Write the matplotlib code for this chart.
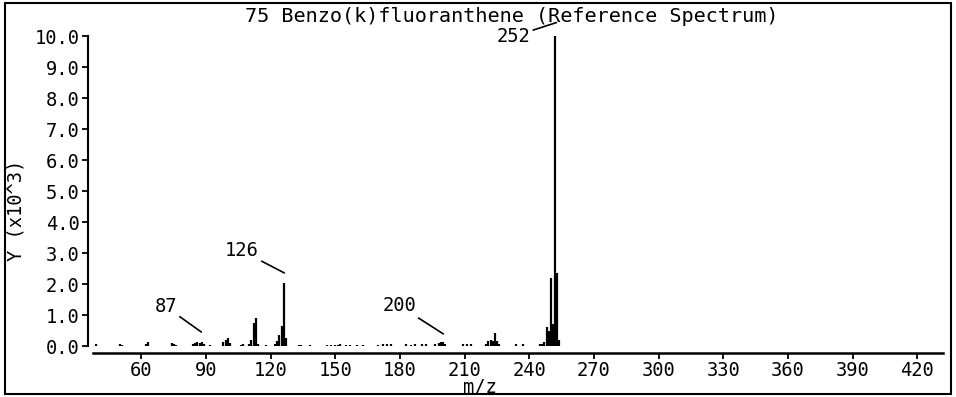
import matplotlib.pyplot as plt
from matplotlib.patches import Rectangle

# spectrum (m/z, abundance in x10^3)
mz = [39, 50, 51, 62, 63, 74, 75, 76, 84, 85, 86, 87, 88, 89, 92, 98, 99, 100, 101,
      106, 107, 110, 111, 112, 113, 114, 118, 122, 123, 124, 125, 126, 127, 133, 134, 138,
      146, 148, 150, 151, 152, 155, 157, 160, 163, 170, 172, 174, 176, 183, 185, 187,
      190, 192, 196, 198, 199, 200, 201, 209, 211, 213, 220, 221, 222, 223, 224, 225, 226,
      234, 237, 245, 246, 247, 248, 249, 250, 251, 252, 253, 254]
y = [0.05, 0.06, 0.04, 0.08, 0.12, 0.1, 0.08, 0.04, 0.05, 0.1, 0.12, 0.1, 0.12, 0.06, 0.04,
     0.12, 0.18, 0.27, 0.1, 0.04, 0.06, 0.08, 0.2, 0.74, 0.9, 0.06, 0.04, 0.08, 0.15, 0.35,
     0.65, 2.05, 0.25, 0.04, 0.03, 0.04, 0.03, 0.04, 0.04, 0.03, 0.05, 0.04, 0.03, 0.04,
     0.03, 0.04, 0.05, 0.06, 0.05, 0.06, 0.04, 0.07, 0.05, 0.06, 0.08, 0.1, 0.12, 0.12,
     0.08, 0.05, 0.06, 0.05, 0.06, 0.15, 0.2, 0.15, 0.43, 0.15, 0.06, 0.05, 0.05, 0.05,
     0.08, 0.12, 0.6, 0.5, 2.2, 0.7, 10.0, 2.37, 0.2]

# labelled peaks: label, line end (peak) and text position
labels = ["87", "126", "200", "252"]
label_xy = [(87.8, 0.45), (126.3, 2.36), (200.1, 0.39), (252.6, 10.45)]
text_xy = [(76.5, 1.27), (114.5, 3.07), (187.5, 1.3), (240.5, 10.0)]

xticks = [60, 90, 120, 150, 180, 210, 240, 270, 300, 330, 360, 390, 420]
yticks = [0, 1, 2, 3, 4, 5, 6, 7, 8, 9, 10]

plt.rcParams['font.family'] = 'DejaVu Sans Mono'
fs = 13.5

fig = plt.figure(figsize=(9.56, 3.97), dpi=100)
ax = fig.add_axes([93 / 956, 51 / 397, 850 / 956, 325 / 397])

ax.vlines(mz, 0, y, color='black', linewidth=1.6)

for lab, (px, py), (tx, ty) in zip(labels, label_xy, text_xy):
    ax.annotate(lab, xy=(px, py), xytext=(tx, ty), fontsize=fs,
                ha='right', va='center',
                arrowprops=dict(arrowstyle='-', color='black', lw=1.2,
                                shrinkA=0, shrinkB=0))

ax.set_xlim(37.5, 432)
ax.set_ylim(0, 10.5)
ax.set_xticks(xticks)
ax.set_yticks(yticks)
ax.set_yticklabels([f"{v:.1f}" for v in yticks])

for s in ['top', 'right']:
    ax.spines[s].set_visible(False)
ax.spines['left'].set_position(('outward', 3.6))
ax.spines['left'].set_bounds(0, 10)
ax.spines['bottom'].set_position(('outward', 5))
ax.spines['left'].set_linewidth(1.5)
ax.spines['bottom'].set_linewidth(1.8)
ax.tick_params(direction='out', length=4, width=1.3, labelsize=fs, pad=2)

fig.text(0.535, 0.958, "75 Benzo(k)fluoranthene (Reference Spectrum)",
         ha='center', va='center', fontsize=14.5)
fig.text(0.502, 0.025, "m/z", ha='center', va='center', fontsize=fs)
fig.text(0.017, 0.47, "Y (x10^3)", ha='center', va='center', fontsize=fs,
         rotation=90)

fig.patches.append(Rectangle((5 / 956, 3 / 397), 946 / 956, 391 / 397,
                             transform=fig.transFigure, fill=False,
                             edgecolor='black', linewidth=1.5))

fig.savefig("out.png", dpi=100)
